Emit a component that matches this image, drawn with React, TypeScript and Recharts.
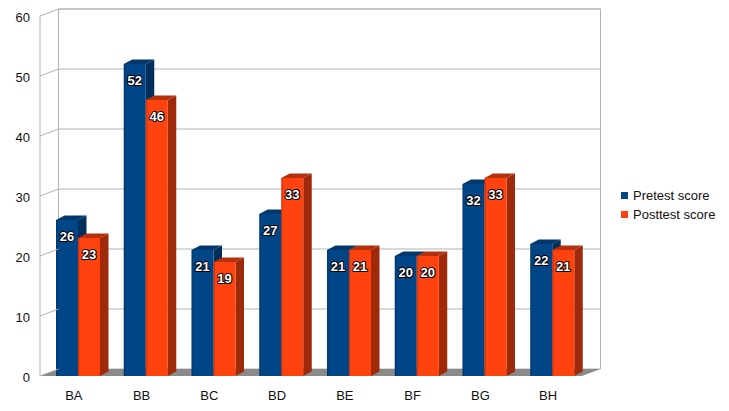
import React from 'react';
import { BarChart, Bar, XAxis, YAxis, CartesianGrid, Legend, LabelList, ReferenceArea } from 'recharts';

const categories = ['BA', 'BB', 'BC', 'BD', 'BE', 'BF', 'BG', 'BH'];
const pretest = [26, 52, 21, 27, 21, 20, 32, 22];
const posttest = [23, 46, 19, 33, 21, 20, 33, 21];
const yTicks = [0, 10, 20, 30, 40, 50, 60];
const seriesNames = ['Pretest score', 'Posttest score'];

const data = categories.map((c, i) => ({ name: c, pre: pretest[i], post: posttest[i] }));

const FONT = '"Liberation Sans", Arial, sans-serif';
const GRID = '#b3b3b3';
const DX = 18.5;
const DY = -7;
const BDX = 8.5;
const BDY = -4.5;
const SHIFT = 4;

const BLUE = { front: '#004586', side: '#002f5c', top: '#00386e' };
const ORANGE = { front: '#ff420e', side: '#9e2a0a', top: '#b5310d' };

const make3DBar = (c: { front: string; side: string; top: string }) => (props: any) => {
  const { x, y, width, height } = props;
  if (x == null || y == null || !width) return <g />;
  const x0 = x + SHIFT;
  const x1 = x0 + width;
  const yb = y + height;
  return (
    <g>
      <polygon points={`${x1},${y} ${x1 + BDX},${y + BDY} ${x1 + BDX},${yb + BDY} ${x1},${yb}`} fill={c.side} />
      <polygon points={`${x0},${y} ${x0 + BDX},${y + BDY} ${x1 + BDX},${y + BDY} ${x1},${y}`} fill={c.top} />
      <rect x={x0} y={y} width={width} height={height} fill={c.front} />
      <rect x={x0} y={y} width={1.5} height={height} fill="#000" opacity={0.15} />
    </g>
  );
};

const renderLabel = (props: any) => {
  const { x, y, width, value } = props;
  return (
    <text
      x={x + SHIFT + width / 2}
      y={y + 16}
      textAnchor="middle"
      dominantBaseline="central"
      fontFamily={FONT}
      fontSize={13}
      fontWeight="bold"
      fill="#fff"
      stroke="#000"
      strokeWidth={2}
      strokeLinejoin="round"
      style={{ paintOrder: 'stroke' }}
    >
      {value}
    </text>
  );
};

const YTick = (props: any) => {
  const { x, y, payload } = props;
  const ax = x + 10;
  return (
    <g>
      <line x1={ax} y1={y} x2={ax + DX} y2={y + DY} stroke={GRID} />
      <text x={x} y={y + 1} textAnchor="end" dominantBaseline="central" fontFamily={FONT} fontSize={13} fill="#111">
        {payload.value}
      </text>
    </g>
  );
};

const XTick = (props: any) => {
  const { x, y, payload } = props;
  return (
    <text x={x} y={y + 19} textAnchor="middle" dominantBaseline="central" fontFamily={FONT} fontSize={13} fill="#111">
      {payload.value}
    </text>
  );
};

const WallShape = (props: any) => {
  const { x, y, width, height } = props;
  const b = y + height;
  return (
    <g>
      <polygon
        points={`${x},${b} ${x + width},${b} ${x + width + DX},${b + DY} ${x + DX},${b + DY}`}
        fill="#8a8a8a"
      />
      <line x1={x + DX} y1={y + DY} x2={x + DX} y2={b + DY} stroke={GRID} />
      <line x1={x + width + DX} y1={y + DY} x2={x + width + DX} y2={b + DY} stroke={GRID} />
      <line x1={x + DX} y1={y + DY} x2={x + width + DX} y2={y + DY} stroke={GRID} />
    </g>
  );
};

const HLine = (props: any) => (
  <line
    key={props.key ?? `h-${props.index}-${props.y1}`}
    x1={props.x1 + DX}
    y1={props.y1 + DY}
    x2={props.x2 + DX}
    y2={props.y2 + DY}
    stroke={GRID}
  />
);

const LegendContent = () => {
  const items = [
    { name: seriesNames[0], color: BLUE.front },
    { name: seriesNames[1], color: ORANGE.front },
  ];
  return (
    <div style={{ position: 'relative', width: 110, height: 40, fontFamily: FONT, fontSize: 13, color: '#111' }}>
      {items.map((it, i) => (
        <div
          key={it.name}
          style={{ position: 'absolute', left: 0, top: i * 19, height: 18, display: 'flex', alignItems: 'center', whiteSpace: 'nowrap' }}
        >
          <span style={{ display: 'inline-block', width: 7, height: 7, background: it.color, marginLeft: 3, marginRight: 5 }} />
          <span>{it.name}</span>
        </div>
      ))}
    </div>
  );
};

export default function App() {
  return (
    <div style={{ position: 'absolute', left: 0, top: 0, width: 729, height: 411, background: '#fff' }}>
      <BarChart
        width={729}
        height={411}
        data={data}
        margin={{ top: 16, right: 147, bottom: 5, left: 0 }}
        barGap={0}
        barSize={22}
      >
        <CartesianGrid vertical={false} horizontal={HLine as any} />
        <ReferenceArea y1={0} y2={60} shape={WallShape} ifOverflow="visible" />
        <XAxis
          dataKey="name"
          height={30}
          tickLine={false}
          axisLine={false}
          tickSize={0}
          tickMargin={0}
          tick={XTick}
          interval={0}
        />
        <YAxis
          width={40}
          domain={[0, 60]}
          ticks={yTicks}
          tickLine={false}
          tickSize={0}
          tickMargin={10}
          axisLine={{ stroke: GRID }}
          tick={YTick}
          interval={0}
        />
        <Legend
          layout="vertical"
          align="center"
          verticalAlign="middle"
          wrapperStyle={{ left: 618, top: 186, width: 110 }}
          content={LegendContent}
        />
        <Bar dataKey="pre" name={seriesNames[0]} fill={BLUE.front} shape={make3DBar(BLUE)} isAnimationActive={false}>
          <LabelList dataKey="pre" content={renderLabel} />
        </Bar>
        <Bar dataKey="post" name={seriesNames[1]} fill={ORANGE.front} shape={make3DBar(ORANGE)} isAnimationActive={false}>
          <LabelList dataKey="post" content={renderLabel} />
        </Bar>
      </BarChart>
    </div>
  );
}
